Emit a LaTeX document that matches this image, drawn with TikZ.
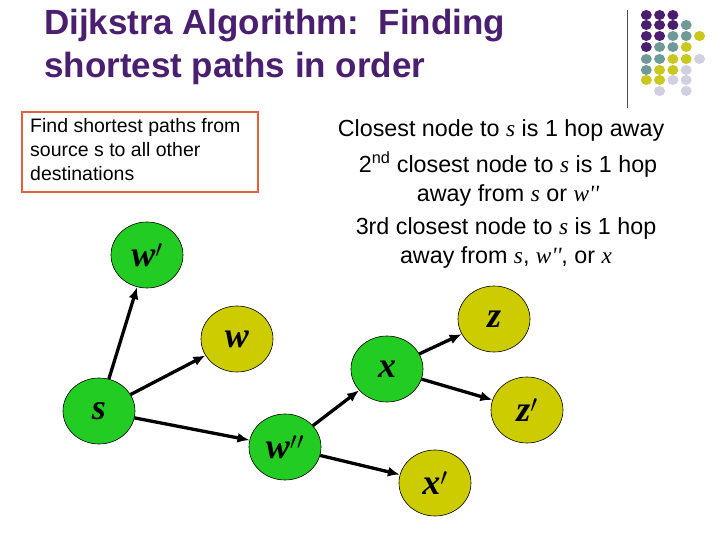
\documentclass[tikz,border=0pt]{standalone}
\usepackage{fontspec}
\setmainfont{Liberation Sans}
\newfontfamily\serifit{Liberation Serif}
\usetikzlibrary{arrows.meta,shapes.geometric}
\definecolor{ttl}{HTML}{4B1F6F}
\definecolor{dP}{HTML}{4B1F6F}
\definecolor{dT}{HTML}{6F9A9A}
\definecolor{dY}{HTML}{C8C81E}
\definecolor{dL}{HTML}{D0D0E0}
\definecolor{ngreen}{HTML}{22CC22}
\definecolor{nyel}{HTML}{CCCC00}
\definecolor{boxred}{HTML}{E0603F}
\tikzset{
 vtx/.style={ellipse, draw=black, line width=0.6pt, minimum width=72pt, minimum height=66pt, inner sep=0pt, font=\fontsize{36}{36}\selectfont\bfseries\itshape\serifit},
 gv/.style={vtx, fill=ngreen}, yv/.style={vtx, fill=nyel},
 edge/.style={-{Latex[length=12pt,width=10pt]}, line width=3.3pt},
 body/.style={font=\fontsize{23.3}{29}\selectfont, align=center},
}
\newcommand{\vs}[1]{{\serifit\itshape #1}}
\begin{document}
\begin{tikzpicture}[x=1pt,y=-1pt]
\useasboundingbox (0,0) rectangle (720,540);
\fill[white] (0,0) rectangle (720,540);
\node[anchor=north west, text=ttl, font=\fontsize{35}{43}\selectfont\bfseries, align=left, inner sep=0pt] (title) at (44,9) {Dijkstra Algorithm:\ \ Finding\\shortest paths in order};
\draw[black!70, line width=0.8pt] (627,10) -- (627,108);
\foreach \r/\cols in {15/{1/dP,2/dP,3/dP}, 25/{1/dP,2/dP,3/dP,4/dT}, 36/{1/dP,2/dP,3/dT,4/dT,5/dY}, 47/{1/dP,2/dT,3/dT,4/dY}, 59/{1/dT,2/dT,3/dY,4/dY,5/dL}, 70/{1/dT,2/dY,3/dY,4/dL}, 80/{1/dY,2/dY,3/dL,4/dL}, 91/{2/dL,4/dL}}{
  \foreach \c/\col in \cols { \fill[\col] ({633+13.3*\c},\r) ellipse (5.5pt and 5pt); }
}
\draw[boxred, line width=1.2pt] (22,112) rectangle (258,192);
\node[anchor=north west, align=left, inner sep=0pt, font=\fontsize{19.5}{24}\selectfont] (box) at (30,118) {Find shortest paths from\\source s to all other\\destinations};
\node[body] (t1) at (501,130) {Closest node to \vs{s} is 1 hop away};
\node[body] (t2) at (508,179) {2\textsuperscript{nd} closest node to \vs{s} is 1 hop\\away from \vs{s} or \vs{w''}};
\node[body] (t3) at (506,243) {3rd closest node to \vs{s} is 1 hop\\away from \vs{s}, \vs{w''}, or \vs{x}};
\node[gv] (wp) at (147,255) {w$'$};
\node[yv] (w) at (237,339) {w};
\node[gv] (s) at (99,411) {s};
\node[gv] (wpp) at (285,447) {w$''$};
\node[gv] (x) at (387,369) {x};
\node[yv] (z) at (494,319) {z};
\node[yv] (zp) at (527,410) {z$'$};
\node[yv] (xp) at (435,483) {x$'$};
\draw[edge] (s) -- (wp);
\draw[edge] (s) -- (w);
\draw[edge] (s) -- (wpp);
\draw[edge] (wpp) -- (x);
\draw[edge] (wpp) -- (xp);
\draw[edge] (x) -- (z);
\draw[edge] (x) -- (zp);
\end{tikzpicture}
\end{document}
